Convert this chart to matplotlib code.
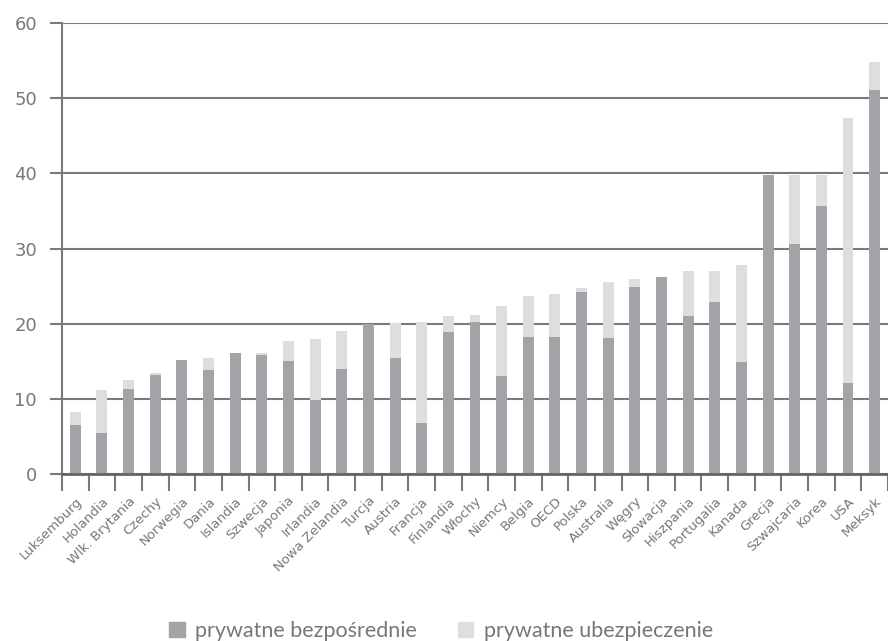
import numpy as np
import matplotlib
matplotlib.use('Agg')
import matplotlib.pyplot as plt
from matplotlib.patches import Patch

countries = ['Luksemburg', 'Holandia', 'Wlk. Brytania', 'Czechy', 'Norwegia', 'Dania',
             'Islandia', 'Szwecja', 'Japonia', 'Irlandia', 'Nowa Zelandia', 'Turcja',
             'Austria', 'Francja', 'Finlandia', 'Włochy', 'Niemcy', 'Belgia', 'OECD',
             'Polska', 'Australia', 'Węgry', 'Słowacja', 'Hiszpania', 'Portugalia',
             'Kanada', 'Grecja', 'Szwajcaria', 'Korea', 'USA', 'Meksyk']

# prywatne bezpośrednie (out of pocket)
direct = [6.5, 5.4, 11.3, 13.1, 15.15, 13.8, 16.1, 15.8, 15.0, 9.8, 13.95, 20.0,
          15.4, 6.75, 18.9, 20.2, 13.0, 18.2, 18.2, 24.2, 18.1, 24.9, 26.2, 21.0,
          22.9, 14.9, 39.8, 30.6, 35.65, 12.1, 51.1]

# totals
total = [8.2, 11.15, 12.5, 13.4, 15.15, 15.4, 16.1, 16.1, 17.7, 17.9, 19.0, 20.0,
         20.1, 20.2, 21.0, 21.1, 22.3, 23.7, 23.9, 24.7, 25.6, 26.0, 26.2, 27.0,
         27.0, 27.8, 39.8, 39.8, 39.8, 47.4, 54.8]

insurance = [t - d for t, d in zip(total, direct)]

yticks = [0, 10, 20, 30, 40, 50, 60]
labels = ['prywatne bezpośrednie', 'prywatne ubezpieczenie']

dark = '#a4a3a7'
light = '#dedee0'
line_col = '#7a7a7a'
text_col = '#777777'

fig = plt.figure(figsize=(8.88, 6.41), dpi=100)
ax = fig.add_axes([0.0698, 0.261, 0.9302, 0.7026])

x = np.arange(len(countries))
ax.bar(x, direct, width=0.41, color=dark, zorder=3)
ax.bar(x, insurance, bottom=direct, width=0.41, color=light, zorder=3)

ax.set_xlim(-0.5, len(countries) - 0.5)
ax.set_ylim(0, 60)

ax.set_yticks(yticks)
ax.set_yticklabels([str(v) for v in yticks], fontsize=13, color=text_col, family='DejaVu Sans')
ax.tick_params(axis='y', length=9, width=1.5, color=line_col, pad=9)
ax.yaxis.grid(True, color=line_col, linewidth=1.5, zorder=0)

# ticks between categories, labels under the bars
ax.set_xticks(np.arange(len(countries) + 1) - 0.5)
ax.set_xticklabels([])
ax.tick_params(axis='x', which='major', length=12, width=1.5, color=line_col)
ax.set_xticks(x, minor=True)
ax.set_xticklabels(countries, minor=True, rotation=45, ha='right', rotation_mode='anchor',
                   fontsize=9.5, color=text_col, family='DejaVu Sans')
ax.tick_params(axis='x', which='minor', length=0, pad=15)

for side in ['top', 'right']:
    ax.spines[side].set_visible(False)
ax.spines['left'].set_color(line_col)
ax.spines['left'].set_linewidth(1.5)
ax.spines['bottom'].set_color('#666666')
ax.spines['bottom'].set_linewidth(2)
ax.spines['bottom'].set_zorder(4)

handles = [Patch(color=dark), Patch(color=light)]
fig.legend(handles, labels, loc='center', bbox_to_anchor=(0.497, 0.016), ncol=2, frameon=False,
           prop={'family': 'Lato', 'size': 15.5}, labelcolor=text_col,
           handlelength=0.7, handleheight=0.7, handletextpad=0.5, columnspacing=1.9,
           borderpad=0, borderaxespad=0)

fig.savefig('out.png', dpi=100)
